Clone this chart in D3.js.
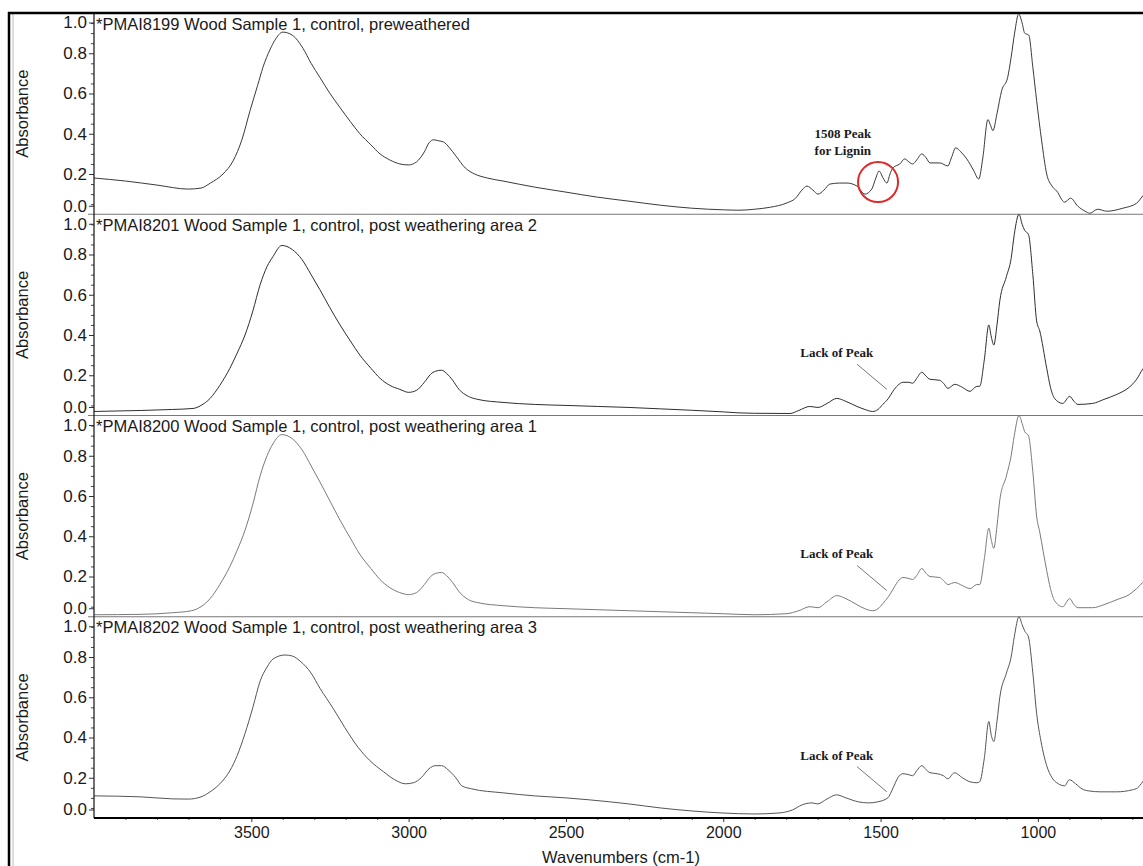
<!DOCTYPE html>
<html>
<head>
<meta charset="utf-8">
<script src="https://cdn.jsdelivr.net/npm/d3@7"></script>
<style>
  body { margin: 0; background: #fff; }
  svg { display: block; }
  text { font-family: "Liberation Sans", Arial, sans-serif; fill: #1a1a1a; }
  .note { font-family: "Liberation Serif", "Times New Roman", serif; font-weight: bold; font-size: 13px; }
</style>
</head>
<body>
<svg id="chart"></svg>
<script>
// spectra: [wavenumber, absorbance]
const preweathered = [
  [4000,0.18],[3900,0.165],[3800,0.145],[3700,0.125],[3660,0.13],[3630,0.155],[3590,0.2],[3558,0.265],
  [3530,0.37],[3504,0.515],[3480,0.64],[3463,0.73],[3440,0.82],[3425,0.865],[3400,0.905],[3370,0.89],
  [3336,0.825],[3310,0.75],[3282,0.68],[3250,0.6],[3218,0.53],[3185,0.46],[3155,0.4],[3120,0.345],
  [3091,0.3],[3060,0.27],[3028,0.25],[3000,0.245],[2975,0.26],[2950,0.31],[2935,0.355],[2920,0.37],
  [2905,0.365],[2890,0.36],[2870,0.33],[2850,0.29],[2820,0.23],[2790,0.2],[2750,0.18],[2700,0.165],
  [2600,0.135],[2500,0.11],[2400,0.085],[2300,0.065],[2200,0.045],[2100,0.03],[2000,0.022],[1950,0.02],
  [1900,0.025],[1850,0.035],[1800,0.055],[1770,0.08],[1750,0.12],[1734,0.14],[1715,0.12],[1699,0.1],
  [1680,0.12],[1661,0.15],[1630,0.155],[1607,0.155],[1575,0.14],[1550,0.1],[1528,0.125],[1515,0.18],
  [1505,0.215],[1492,0.18],[1480,0.155],[1470,0.2],[1461,0.23],[1439,0.25],[1423,0.275],[1410,0.26],
  [1398,0.25],[1385,0.27],[1369,0.3],[1355,0.28],[1343,0.255],[1312,0.255],[1286,0.24],[1275,0.28],
  [1261,0.33],[1245,0.31],[1226,0.275],[1205,0.22],[1188,0.175],[1175,0.28],[1159,0.47],[1150,0.44],
  [1143,0.415],[1130,0.5],[1115,0.615],[1096,0.68],[1085,0.78],[1074,0.9],[1061,0.995],[1050,0.95],
  [1042,0.9],[1029,0.89],[1016,0.73],[1004,0.565],[988,0.365],[972,0.2],[955,0.14],[940,0.115],
  [915,0.06],[896,0.08],[873,0.04],[850,0.015],[835,0.005],[810,0.025],[781,0.015],[730,0.03],
  [686,0.055],[667,0.09],[650,0.12]
];
const postArea2 = [
  [4000,0.02],[3850,0.025],[3750,0.03],[3685,0.035],[3660,0.05],[3631,0.085],[3600,0.15],[3568,0.235],
  [3545,0.31],[3520,0.4],[3495,0.52],[3472,0.65],[3450,0.74],[3431,0.79],[3403,0.845],[3370,0.825],
  [3339,0.775],[3310,0.7],[3282,0.625],[3250,0.535],[3218,0.45],[3185,0.37],[3155,0.3],[3120,0.235],
  [3091,0.185],[3060,0.15],[3028,0.13],[3000,0.115],[2975,0.125],[2950,0.165],[2930,0.205],[2915,0.22],
  [2895,0.225],[2880,0.21],[2860,0.175],[2840,0.13],[2810,0.095],[2780,0.08],[2700,0.065],[2600,0.055],
  [2500,0.05],[2400,0.045],[2300,0.04],[2200,0.033],[2100,0.026],[2000,0.018],[1950,0.013],[1900,0.011],
  [1788,0.01],[1760,0.025],[1725,0.045],[1699,0.04],[1670,0.06],[1639,0.085],[1610,0.07],[1575,0.045],
  [1550,0.03],[1525,0.02],[1508,0.03],[1493,0.055],[1475,0.085],[1461,0.12],[1445,0.15],[1429,0.165],
  [1410,0.165],[1398,0.16],[1385,0.185],[1369,0.215],[1355,0.195],[1343,0.18],[1312,0.175],[1300,0.16],
  [1286,0.135],[1264,0.155],[1240,0.14],[1216,0.12],[1194,0.145],[1185,0.145],[1170,0.28],[1156,0.45],
  [1148,0.39],[1140,0.35],[1130,0.45],[1121,0.57],[1100,0.69],[1085,0.78],[1075,0.9],[1060,1.0],
  [1050,0.95],[1042,0.92],[1030,0.9],[1016,0.7],[1004,0.47],[994,0.42],[972,0.235],[960,0.14],
  [947,0.085],[921,0.06],[899,0.095],[885,0.07],[873,0.055],[826,0.06],[790,0.08],[749,0.105],
  [710,0.14],[686,0.18],[667,0.23],[650,0.26]
];
const postArea1 = [
  [4000,0.01],[3850,0.012],[3750,0.02],[3690,0.03],[3660,0.05],[3631,0.09],[3600,0.16],[3568,0.25],
  [3545,0.33],[3520,0.43],[3495,0.56],[3472,0.7],[3450,0.8],[3431,0.86],[3403,0.905],[3370,0.885],
  [3339,0.83],[3310,0.75],[3282,0.67],[3250,0.575],[3218,0.48],[3185,0.39],[3155,0.31],[3120,0.24],
  [3091,0.185],[3060,0.145],[3028,0.12],[3000,0.11],[2975,0.12],[2950,0.16],[2930,0.2],[2915,0.215],
  [2895,0.22],[2880,0.205],[2860,0.17],[2840,0.125],[2810,0.085],[2780,0.07],[2700,0.055],[2600,0.045],
  [2500,0.04],[2400,0.035],[2300,0.03],[2200,0.025],[2100,0.02],[2000,0.015],[1900,0.01],[1800,0.015],
  [1760,0.03],[1725,0.05],[1699,0.045],[1670,0.075],[1639,0.105],[1610,0.09],[1575,0.06],[1550,0.04],
  [1525,0.03],[1508,0.04],[1493,0.065],[1475,0.1],[1461,0.135],[1445,0.175],[1429,0.195],[1410,0.19],
  [1398,0.185],[1385,0.205],[1369,0.24],[1355,0.215],[1343,0.2],[1312,0.195],[1300,0.18],[1286,0.16],
  [1264,0.17],[1240,0.155],[1216,0.14],[1194,0.16],[1185,0.16],[1170,0.29],[1156,0.44],[1148,0.38],
  [1140,0.34],[1130,0.45],[1121,0.58],[1100,0.7],[1085,0.8],[1075,0.9],[1060,1.0],[1050,0.96],
  [1042,0.92],[1030,0.9],[1016,0.72],[1004,0.5],[994,0.42],[972,0.23],[960,0.14],[947,0.08],
  [921,0.05],[899,0.09],[885,0.06],[873,0.045],[826,0.045],[790,0.06],[749,0.085],[710,0.11],
  [686,0.14],[667,0.17],[650,0.2]
];
const postArea3 = [
  [4000,0.11],[3850,0.105],[3750,0.095],[3700,0.094],[3660,0.105],[3631,0.13],[3600,0.17],[3568,0.235],
  [3545,0.31],[3520,0.42],[3495,0.55],[3472,0.68],[3450,0.75],[3431,0.79],[3393,0.81],[3370,0.805],
  [3345,0.78],[3310,0.72],[3282,0.645],[3240,0.545],[3203,0.45],[3160,0.35],[3123,0.285],[3080,0.23],
  [3044,0.19],[3010,0.17],[2985,0.175],[2960,0.2],[2935,0.245],[2915,0.26],[2895,0.26],[2875,0.24],
  [2850,0.2],[2831,0.16],[2800,0.145],[2700,0.125],[2600,0.11],[2500,0.1],[2424,0.09],[2300,0.07],
  [2200,0.05],[2100,0.035],[2004,0.025],[1900,0.02],[1823,0.025],[1780,0.04],[1750,0.065],[1718,0.075],
  [1700,0.07],[1670,0.095],[1640,0.115],[1610,0.1],[1570,0.08],[1537,0.075],[1510,0.08],[1477,0.1],
  [1460,0.15],[1445,0.2],[1429,0.22],[1410,0.215],[1398,0.21],[1385,0.235],[1369,0.26],[1355,0.24],
  [1343,0.225],[1320,0.22],[1300,0.21],[1286,0.195],[1265,0.225],[1240,0.2],[1216,0.18],[1194,0.175],
  [1185,0.18],[1170,0.3],[1156,0.48],[1148,0.41],[1140,0.38],[1130,0.48],[1121,0.6],[1100,0.72],
  [1085,0.8],[1075,0.9],[1060,1.0],[1050,0.96],[1042,0.93],[1030,0.9],[1016,0.72],[1004,0.52],
  [990,0.38],[972,0.26],[955,0.2],[935,0.17],[915,0.16],[900,0.19],[880,0.17],[860,0.145],
  [840,0.135],[800,0.13],[750,0.13],[700,0.14],[683,0.15],[667,0.18],[650,0.22]
];

const panelTitles = [
  "*PMAI8199 Wood Sample 1, control, preweathered",
  "*PMAI8201 Wood Sample 1, control, post weathering area 2",
  "*PMAI8200 Wood Sample 1, control, post weathering area 1",
  "*PMAI8202 Wood Sample 1, control, post weathering area 3"
];
const panelSpectra = [preweathered, postArea2, postArea1, postArea3];
const yTicks = [0, 0.2, 0.4, 0.6, 0.8, 1.0];
const xTicks = [3500, 3000, 2500, 2000, 1500, 1000];

const width = 1143;
const height = 866;
const plotLeft = 94, plotRight = 1148, plotTop = 13, plotBottom = 818;
const panelH = (plotBottom - plotTop) / panelTitles.length;
const lineColors = ["#3a3a3a", "#2e2e2e", "#7a7a7a", "#555"];

const svg = d3.select("#chart").attr("width", width).attr("height", height);

const x = d3.scaleLinear().domain([4000, 650]).range([plotLeft, plotRight]);

svg.append("clipPath").attr("id", "plot-clip")
  .append("rect").attr("x", plotLeft).attr("y", plotTop)
  .attr("width", width - plotLeft).attr("height", plotBottom - plotTop);

// outer frame
svg.append("line").attr("x1", 9).attr("x2", 9).attr("y1", plotTop - 1).attr("y2", height)
  .attr("stroke", "#000").attr("stroke-width", 2.5);
svg.append("line").attr("x1", 13).attr("x2", 13).attr("y1", plotTop).attr("y2", height)
  .attr("stroke", "#bbb").attr("stroke-width", 1);
svg.append("line").attr("x1", 8).attr("x2", width).attr("y1", plotTop).attr("y2", plotTop)
  .attr("stroke", "#000").attr("stroke-width", 2.5);

const line = d3.line().curve(d3.curveMonotoneX);

panelSpectra.forEach((spectrum, i) => {
  const pTop = plotTop + i * panelH;
  const y = d3.scaleLinear().domain([0, 1]).range([pTop + panelH, pTop]);
  const g = svg.append("g");

  // panel separator
  if (i > 0) {
    g.append("line").attr("x1", plotLeft - 6).attr("x2", width).attr("y1", pTop).attr("y2", pTop)
      .attr("stroke", "#777").attr("stroke-width", 1);
  }

  // minor ticks
  const minor = d3.range(1, 20).map((k) => k * 0.05).filter((v) => Math.round(v * 100) % 20 !== 0);
  g.append("g").attr("transform", `translate(${plotLeft},0)`)
    .call(d3.axisLeft(y).tickValues(minor).tickSize(3).tickFormat(""))
    .call((a) => a.select(".domain").remove())
    .call((a) => a.selectAll("line").attr("stroke", "#444"));

  const ax = g.append("g").attr("transform", `translate(${plotLeft},0)`)
    .call(d3.axisLeft(y).tickValues(yTicks).tickSize(5).tickPadding(2).tickFormat(d3.format(".1f")))
    .call((a) => a.select(".domain").remove());
  ax.selectAll("text").style("font-size", "17px")
    .style("font-family", '"Liberation Sans", Arial, sans-serif').attr("fill", "#1a1a1a");
  ax.selectAll("line").attr("stroke", "#333");
  // end labels sit inside the panel
  ax.selectAll(".tick").filter((d) => d === 1).attr("transform", `translate(0,${y(1) + 10})`);
  ax.selectAll(".tick").filter((d) => d === 0).attr("transform", `translate(0,${y(0) - 8})`);

  g.append("text")
    .attr("transform", `translate(24,${pTop + panelH / 2}) rotate(-90)`)
    .attr("text-anchor", "middle").attr("dominant-baseline", "middle")
    .style("font-size", "16.5px").text("Absorbance");

  g.append("text").attr("x", plotLeft + 2).attr("y", pTop + 16.5)
    .style("font-size", "16.5px").text(panelTitles[i]);

  g.append("path")
    .attr("clip-path", "url(#plot-clip)")
    .attr("d", line(spectrum.map((d) => [x(d[0]), y(d[1])])))
    .attr("fill", "none").attr("stroke", lineColors[i]).attr("stroke-width", 1);

  if (i === 0) {
    g.append("text").attr("class", "note").attr("text-anchor", "middle")
      .attr("x", x(1620)).attr("y", y(0.38)).text("1508 Peak");
    g.append("text").attr("class", "note").attr("text-anchor", "middle")
      .attr("x", x(1620)).attr("y", y(0.295)).text("for Lignin");
    g.append("circle").attr("cx", x(1508)).attr("cy", y(0.16)).attr("r", 20)
      .attr("fill", "none").attr("stroke", "#dd2a2a").attr("stroke-width", 2);
  } else {
    g.append("text").attr("class", "note").attr("text-anchor", "middle")
      .attr("x", x(1639)).attr("y", y(0.29)).text("Lack of Peak");
    g.append("line")
      .attr("x1", x(1575)).attr("y1", y(0.255)).attr("x2", x(1480)).attr("y2", y(0.13))
      .attr("stroke", "#777").attr("stroke-width", 1);
  }
});

// left axis line
svg.append("line").attr("x1", plotLeft).attr("x2", plotLeft).attr("y1", plotTop).attr("y2", plotBottom)
  .attr("stroke", "#111").attr("stroke-width", 1.2);

// x axis
const xMinor = d3.range(3900, 600, -100).filter((v) => v % 500 !== 0);
svg.append("g").attr("transform", `translate(0,${plotBottom})`)
  .call(d3.axisBottom(x).tickValues(xMinor).tickSize(2).tickFormat(""))
  .call((a) => a.select(".domain").remove())
  .call((a) => a.selectAll("line").attr("stroke", "#555"));

const xa = svg.append("g").attr("transform", `translate(0,${plotBottom})`)
  .call(d3.axisBottom(x).tickValues(xTicks).tickSize(4).tickPadding(5).tickFormat(d3.format("d")))
  .call((a) => a.select(".domain").remove());
xa.selectAll("text").style("font-size", "16px")
  .style("font-family", '"Liberation Sans", Arial, sans-serif').attr("fill", "#1a1a1a");
xa.selectAll("line").attr("stroke", "#333");

svg.append("line").attr("x1", plotLeft).attr("x2", width).attr("y1", plotBottom).attr("y2", plotBottom)
  .attr("stroke", "#000").attr("stroke-width", 2);

svg.append("text").attr("x", (plotLeft + plotRight) / 2).attr("y", plotBottom + 45)
  .attr("text-anchor", "middle").style("font-size", "16.5px").text("Wavenumbers (cm-1)");
</script>
</body>
</html>
